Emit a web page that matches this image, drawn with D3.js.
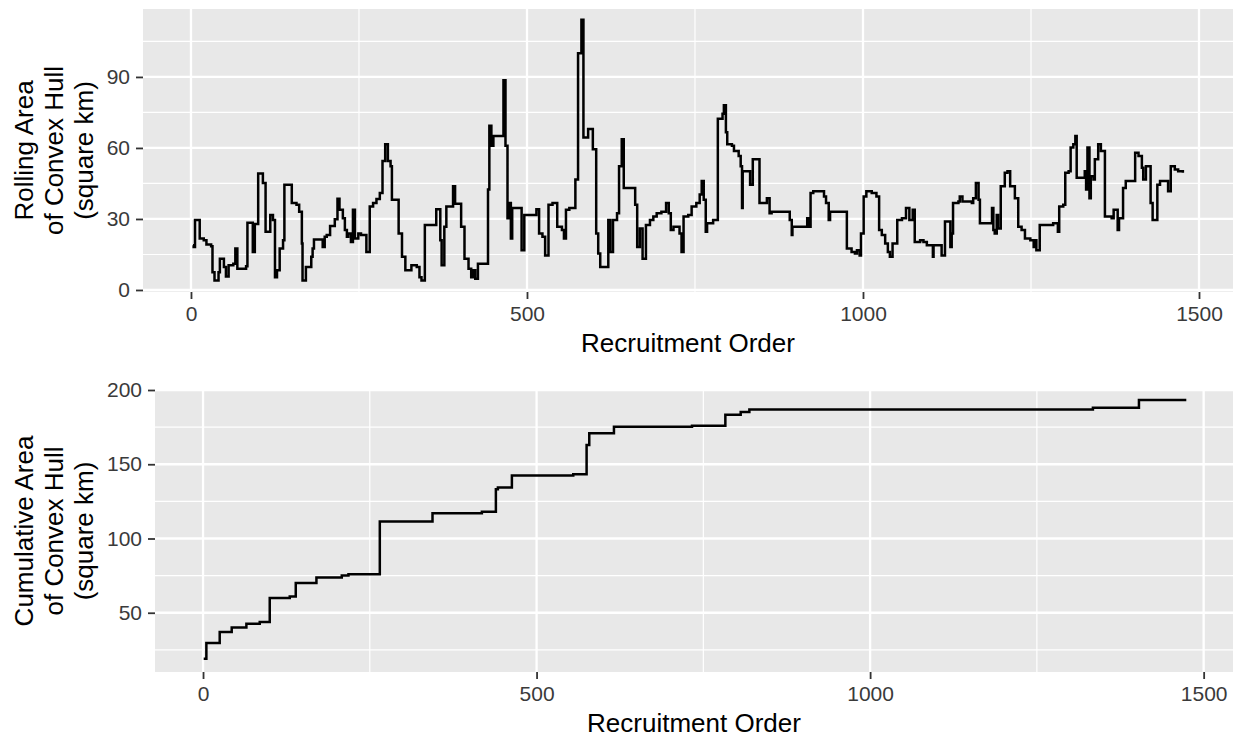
<!DOCTYPE html>
<html>
<head>
<meta charset="utf-8">
<script src="https://cdn.jsdelivr.net/npm/d3@7"></script>
<style>
	body { margin: 0; background: #fff; }
	svg { display: block; font-family: "Liberation Sans", Arial, Helvetica, sans-serif; }
</style>
</head>
<body>
<svg id="chart" width="1243" height="741"></svg>
<script>
	//rolling area of convex hull (step values)
var rollOrder = [3, 4, 6, 13, 19, 23, 30, 32, 35, 41, 43, 49, 52, 56, 63, 66, 69, 82, 84, 92, 95, 100, 107, 111, 118, 122,
	125, 128, 132, 137, 139, 150, 157, 161, 165, 166, 171, 179, 181, 183, 196, 199, 202, 207, 214, 218, 221, 226, 229, 232,
	234, 238, 241, 244, 249, 253, 261, 266, 271, 276, 281, 285, 289, 293, 297, 299, 309, 314, 319, 328, 336, 340, 343, 348,
	365, 371, 373, 377, 380, 390, 393, 402, 407, 413, 417, 420, 423, 427, 442, 444, 447, 450, 465, 468, 471, 474, 476, 478,
	492, 496, 514, 518, 523, 527, 532, 538, 545, 552, 555, 558, 563, 572, 576, 581, 584, 591, 598, 603, 606, 609, 621, 624,
	628, 634, 637, 641, 644, 661, 664, 668, 672, 677, 683, 688, 693, 700, 707, 711, 714, 718, 727, 730, 733, 740, 745, 752,
	757, 760, 763, 766, 768, 777, 784, 791, 793, 796, 798, 805, 808, 815, 818, 820, 821, 832, 836, 846, 857, 861, 864, 891,
	894, 895, 917, 920, 922, 926, 942, 945, 949, 951, 976, 983, 988, 991, 995, 997, 1001, 1005, 1013, 1020, 1024, 1028, 1033,
	1037, 1040, 1044, 1051, 1058, 1064, 1069, 1074, 1077, 1085, 1090, 1095, 1104, 1105, 1117, 1122, 1130, 1132, 1134, 1142,
	1144, 1148, 1162, 1164, 1168, 1172, 1174, 1192, 1194, 1196, 1199, 1201, 1205, 1211, 1215, 1219, 1226, 1231, 1236, 1241,
	1249, 1254, 1256, 1258, 1263, 1283, 1290, 1292, 1298, 1301, 1306, 1309, 1313, 1316, 1318, 1330, 1332, 1334, 1337, 1339,
	1343, 1345, 1350, 1354, 1360, 1370, 1373, 1379, 1381, 1387, 1391, 1405, 1410, 1415, 1417, 1421, 1428, 1431, 1438, 1442,
	1454, 1458, 1464, 1469, 1476];
var rollArea = [18.9, 18.2, 29.6, 21.8, 21, 19.2, 18.5, 7.5, 4, 7.5, 13.2, 9.7, 5.7, 10.4, 11.1, 17.5, 9, 10, 28.4, 16, 27.9,
	49.2, 45.2, 24.6, 31.7, 29.6, 5.4, 8.3, 17.5, 21, 44.5, 36.7, 36, 33.1, 19.6, 4, 9.7, 14, 17.5, 21.3, 18.2, 22.5, 23.2,
	27, 29.9, 38.5, 33.9, 30.3, 25.3, 22.5, 23.9, 20.3, 33.9, 21.8, 23.9, 23.2, 16, 35.3, 36.7, 38.4, 41, 54.5, 61.6, 54.5,
	52.3, 38.1, 23.9, 14, 8.3, 10.4, 9.7, 5.4, 4, 27.5, 34.1, 21, 10.4, 26.7, 35.3, 43.8, 36.4, 26.7, 13.2, 9, 5.4, 8.3,
	4.7, 11.1, 42.4, 69.4, 60.9, 65.1, 88.6, 60.9, 30.3, 36.7, 21.8, 34.6, 16.8, 31.7, 34.1, 23.9, 22.5, 14.6, 36, 36.7,
	26.7, 25.3, 21.8, 33.9, 34.6, 46.7, 100, 114.2, 64.4, 68, 59.5, 23.9, 15.4, 9.7, 29.6, 16, 29.6, 32.4, 52.3, 63.7, 43.1,
	36, 18.2, 26, 13.2, 27.5, 29.6, 31, 32.4, 33.1, 36.7, 32.4, 25.3, 26.7, 23.9, 16, 31, 31.7, 35.3, 36.7, 40.3, 46, 38.1,
	24.6, 28.2, 29.6, 72.3, 74.4, 78, 66.6, 61.6, 60.9, 58.7, 56.6, 52.3, 34.6, 50.2, 44.5, 55.2, 36.7, 38.8, 32.4, 33.1,
	29.6, 23.2, 26.7, 30.3, 26.7, 41, 41.7, 39.5, 36.7, 29.6, 33.1, 17.5, 16, 15.4, 16.8, 14.6, 23.9, 39.5, 41.7, 41, 39.5,
	25.3, 23.2, 19.6, 16, 14, 19.6, 29.6, 30.3, 34.6, 29.6, 33.9, 20.3, 21, 20.3, 18.9, 14, 18.9, 14.6, 28.9, 18.2, 23.9,
	36.7, 37.4, 39.5, 37.4, 36.7, 38.8, 45.2, 38.1, 28.2, 34.6, 25.3, 23.9, 31.7, 26, 43.8, 49.5, 50.2, 43.8, 38.8, 26.7,
	25.3, 21.8, 21, 18.2, 21, 16.8, 27.5, 28.2, 24.6, 35.3, 36, 49.5, 50.2, 60.2, 61.6, 65.1, 47.4, 50.2, 42.4, 60.2, 38.8,
	48.1, 46.7, 55.2, 61.6, 58.7, 31, 30.3, 33.9, 25.3, 30.3, 43.1, 46, 58, 56.6, 51.6, 46.7, 52.3, 36.7, 29.6, 44.5, 46,
	41.7, 52.3, 50.9, 50.2, 49.5];

	//cumulative area of convex hull (step values)
var cumOrder = [1, 5, 25, 43, 65, 85, 100, 130, 139, 170, 208, 218, 265, 344, 418, 439, 442, 463, 555, 575, 579, 616, 733,
	783, 806, 819, 1334, 1403, 1474];
var cumArea = [19, 29.6, 37, 40, 42.6, 43.8, 60, 61, 70, 73.8, 75.1, 76, 111.4, 117, 118, 133.2, 134.4, 142.4, 143.3, 163,
	170.9, 175.3, 176, 183.4, 185.2, 186.8, 188, 193.2, 193.2];

var xTicks = [0, 500, 1000, 1500];
var xMinor = [250, 750, 1250];
var rollTicks = [0, 30, 60, 90];
var rollMinor = [15, 45, 75, 105];
var cumTicks = [50, 100, 150, 200];
var cumMinor = [25, 75, 125, 175];

var xTitle = 'Recruitment Order';
var rollTitle = ['Rolling Area', 'of Convex Hull', '(square km)'];
var cumTitle = ['Cumulative Area', 'of Convex Hull', '(square km)'];

var svg = d3.select('#chart');

function drawPanel(p) {
	var x = d3.scaleLinear().domain(p.xDomain).range([p.left, p.right]);
	var y = d3.scaleLinear().domain(p.yDomain).range([p.bottom, p.top]);
	var g = svg.append('g');

		//panel background
	g.append('rect')
		.attr('x', p.left).attr('y', p.top)
		.attr('width', p.right - p.left).attr('height', p.bottom - p.top)
		.attr('fill', '#E8E8E8');

		//minor then major grid
	g.selectAll('.ym').data(p.yMinor).enter().append('line')
		.attr('x1', p.left).attr('x2', p.right)
		.attr('y1', function(d) { return y(d); }).attr('y2', function(d) { return y(d); })
		.attr('stroke', '#fff').attr('stroke-width', 1.2);
	g.selectAll('.xm').data(xMinor).enter().append('line')
		.attr('y1', p.top).attr('y2', p.bottom)
		.attr('x1', function(d) { return x(d); }).attr('x2', function(d) { return x(d); })
		.attr('stroke', '#fff').attr('stroke-width', 1.2);
	g.selectAll('.yM').data(p.yTicks).enter().append('line')
		.attr('x1', p.left).attr('x2', p.right)
		.attr('y1', function(d) { return y(d); }).attr('y2', function(d) { return y(d); })
		.attr('stroke', '#fff').attr('stroke-width', 2.3);
	g.selectAll('.xM').data(xTicks).enter().append('line')
		.attr('y1', p.top).attr('y2', p.bottom)
		.attr('x1', function(d) { return x(d); }).attr('x2', function(d) { return x(d); })
		.attr('stroke', '#fff').attr('stroke-width', 2.3);

		//the step line
	var line = d3.line()
		.x(function(d, i) { return x(p.xs[i]); })
		.y(function(d) { return y(d); })
		.curve(d3.curveStepAfter);
	g.append('path')
		.datum(p.ys)
		.attr('d', line)
		.attr('fill', 'none')
		.attr('stroke', '#000')
		.attr('stroke-width', 2.5)
		.attr('stroke-linejoin', 'miter');

		//axes
	var xAxis = d3.axisBottom(x).tickValues(xTicks).tickFormat(d3.format('d')).tickSize(7).tickPadding(7);
	var ax = g.append('g').attr('transform', 'translate(0,' + p.bottom + ')').call(xAxis);
	var yAxis = d3.axisLeft(y).tickValues(p.yTicks).tickFormat(d3.format('d')).tickSize(7).tickPadding(6);
	var ay = g.append('g').attr('transform', 'translate(' + p.left + ',0)').call(yAxis);

	[ax, ay].forEach(function(a) {
		a.select('.domain').remove();
		a.selectAll('.tick line').attr('stroke', '#333').attr('stroke-width', 1.8);
		a.selectAll('.tick text')
			.attr('fill', '#3a3a3a')
			.style('font-size', '21px')
			.style('font-family', '"Liberation Sans", Arial, Helvetica, sans-serif');
	});

		//titles
	g.append('text')
		.attr('x', (p.left + p.right) / 2)
		.attr('y', p.bottom + 60)
		.attr('text-anchor', 'middle')
		.style('font-size', '26px')
		.text(xTitle);

	var cy = (p.top + p.bottom) / 2;
	p.yTitle.forEach(function(t, i) {
		g.append('text')
			.attr('transform', 'translate(' + (33 + i * 30) + ',' + cy + ') rotate(-90)')
			.attr('text-anchor', 'middle')
			.style('font-size', '26px')
			.text(t);
	});
}

drawPanel({
	left: 143, right: 1233, top: 9, bottom: 292,
	xDomain: [-71.4, 1550.6], yDomain: [-0.85, 118.7],
	xs: rollOrder, ys: rollArea,
	yTicks: rollTicks, yMinor: rollMinor, yTitle: rollTitle
});

drawPanel({
	left: 155, right: 1233, top: 390, bottom: 672,
	xDomain: [-72, 1544], yDomain: [10.1, 200],
	xs: cumOrder, ys: cumArea,
	yTicks: cumTicks, yMinor: cumMinor, yTitle: cumTitle
});
</script>
</body>
</html>
